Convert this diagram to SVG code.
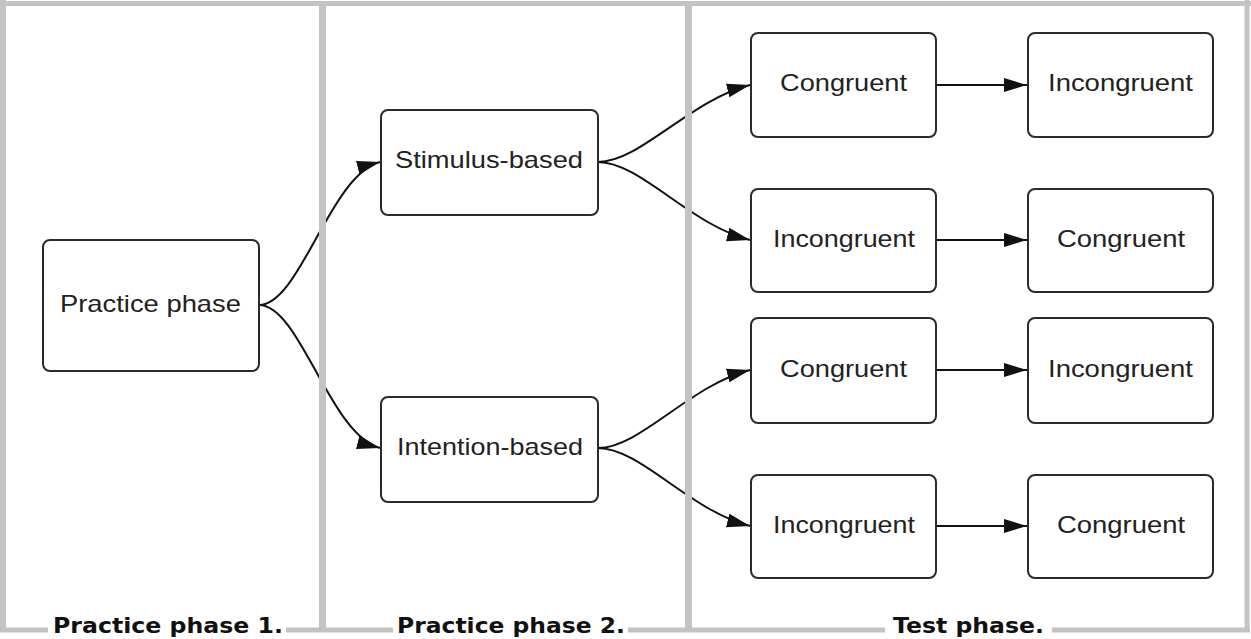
<svg xmlns="http://www.w3.org/2000/svg" width="1251" height="639" viewBox="0 0 1251 639">
<style>
.frame{stroke:#c3c3c3;fill:none}
.node rect{fill:#fff;stroke:#2b2b2b;stroke-width:2}
.node text{font-family:"Liberation Sans",Arial,sans-serif;font-size:24px;fill:#222;text-anchor:middle}
.conn path{fill:none;stroke:#111;stroke-width:2}
.lbl{font-family:"DejaVu Sans",Verdana,sans-serif;font-weight:bold;font-size:22px;fill:#111}
</style>
<defs>
<marker id="ah" markerUnits="userSpaceOnUse" markerWidth="24" markerHeight="16" viewBox="0 0 24 16" refX="23" refY="8" orient="auto">
<path d="M0,1 L23,8 L0,15 Z" fill="#111"/>
</marker>
</defs>
<rect width="1251" height="639" fill="#fff"/>
<g id="connectors" class="conn">
<path d="M259,305 C300,305 330,175 380,162" marker-end="url(#ah)"/>
<path d="M259,305 C300,305 330,435 380,448" marker-end="url(#ah)"/>
<path d="M598,162 C640,162 690,100 750,85" marker-end="url(#ah)"/>
<path d="M598,162 C640,162 690,225 750,240" marker-end="url(#ah)"/>
<path d="M598,448 C640,448 690,385 750,370" marker-end="url(#ah)"/>
<path d="M598,448 C640,448 690,511 750,526" marker-end="url(#ah)"/>
<path d="M936,85 L1027,85" marker-end="url(#ah)"/>
<path d="M936,240 L1027,240" marker-end="url(#ah)"/>
<path d="M936,370 L1027,370" marker-end="url(#ah)"/>
<path d="M936,526 L1027,526" marker-end="url(#ah)"/>
</g>
<g id="frame" class="frame">
<line x1="0" y1="3.5" x2="1251" y2="3.5" stroke-width="5"/>
<line x1="3" y1="0" x2="3" y2="632" stroke-width="6"/>
<line x1="1247" y1="0" x2="1247" y2="632" stroke-width="5"/>
<line x1="322.5" y1="3" x2="322.5" y2="632" stroke-width="7"/>
<line x1="688.5" y1="3" x2="688.5" y2="632" stroke-width="7"/>
<line x1="0" y1="630" x2="48" y2="630" stroke-width="5"/>
<line x1="286" y1="630" x2="393" y2="630" stroke-width="5"/>
<line x1="628" y1="630" x2="885" y2="630" stroke-width="5"/>
<line x1="1052" y1="630" x2="1250" y2="630" stroke-width="5"/>
</g>
<g id="labels">
<text class="lbl" x="53" y="633" textLength="230" lengthAdjust="spacingAndGlyphs">Practice phase 1.</text>
<text class="lbl" x="397" y="633" textLength="228" lengthAdjust="spacingAndGlyphs">Practice phase 2.</text>
<text class="lbl" x="893" y="633" textLength="151" lengthAdjust="spacingAndGlyphs">Test phase.</text>
</g>
<g id="n-practice" class="node">
<rect x="43" y="240" width="216" height="131" rx="7"/>
<text x="150.5" y="312" textLength="181" lengthAdjust="spacingAndGlyphs">Practice phase</text>
</g>
<g id="n-stimulus" class="node">
<rect x="381" y="110" width="217" height="105" rx="7"/>
<text x="489" y="168" textLength="188" lengthAdjust="spacingAndGlyphs">Stimulus-based</text>
</g>
<g id="n-intention" class="node">
<rect x="381" y="397" width="217" height="105" rx="7"/>
<text x="490" y="455" textLength="186" lengthAdjust="spacingAndGlyphs">Intention-based</text>
</g>
<g id="n-t1a" class="node">
<rect x="751" y="33" width="185" height="104" rx="7"/>
<text x="843.5" y="91" textLength="127" lengthAdjust="spacingAndGlyphs">Congruent</text>
</g>
<g id="n-t1b" class="node">
<rect x="1028" y="33" width="185" height="104" rx="7"/>
<text x="1120.5" y="91" textLength="145" lengthAdjust="spacingAndGlyphs">Incongruent</text>
</g>
<g id="n-t2a" class="node">
<rect x="751" y="189" width="185" height="103" rx="7"/>
<text x="844" y="247" textLength="142" lengthAdjust="spacingAndGlyphs">Incongruent</text>
</g>
<g id="n-t2b" class="node">
<rect x="1028" y="189" width="185" height="103" rx="7"/>
<text x="1121" y="247" textLength="128" lengthAdjust="spacingAndGlyphs">Congruent</text>
</g>
<g id="n-t3a" class="node">
<rect x="751" y="318" width="185" height="105" rx="7"/>
<text x="843.5" y="377" textLength="127" lengthAdjust="spacingAndGlyphs">Congruent</text>
</g>
<g id="n-t3b" class="node">
<rect x="1028" y="318" width="185" height="105" rx="7"/>
<text x="1120.5" y="377" textLength="145" lengthAdjust="spacingAndGlyphs">Incongruent</text>
</g>
<g id="n-t4a" class="node">
<rect x="751" y="475" width="185" height="103" rx="7"/>
<text x="844" y="533" textLength="142" lengthAdjust="spacingAndGlyphs">Incongruent</text>
</g>
<g id="n-t4b" class="node">
<rect x="1028" y="475" width="185" height="103" rx="7"/>
<text x="1121" y="533" textLength="128" lengthAdjust="spacingAndGlyphs">Congruent</text>
</g>
</svg>
